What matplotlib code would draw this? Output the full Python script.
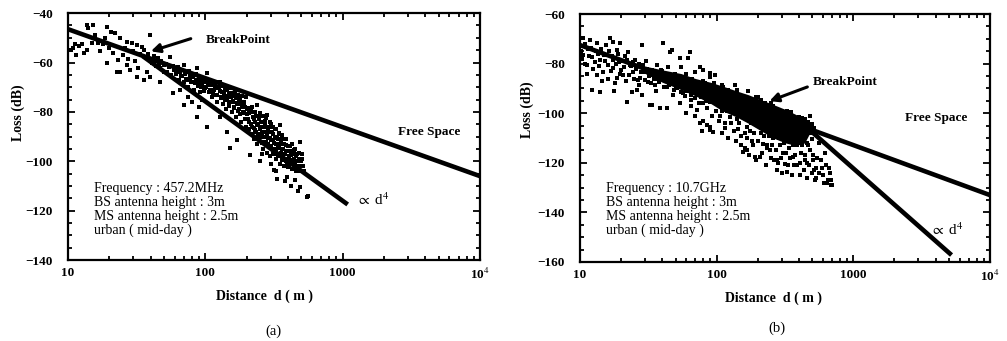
import numpy as np
import matplotlib
matplotlib.use('Agg')
import matplotlib.pyplot as plt
from matplotlib.ticker import FixedLocator, LogLocator, MultipleLocator, NullFormatter

plt.rcParams['font.family'] = ['Liberation Serif', 'DejaVu Serif']
plt.rcParams['mathtext.fontset'] = 'stix'

# ---- panel (a): 457.2 MHz ----
a_dist = [10.5, 10.9, 11.2, 11.5, 12.0, 12.6, 13.0, 13.7, 13.8, 14.1, 14.9, 15.3, 15.8, 16.6, 17.2, 18.1, 18.5, 19.1, 19.1, 19.8,
          20.5, 21.4, 22, 22.8, 23.3, 24, 24, 25, 26, 26.8, 26.8, 27.5, 28.4, 29.2, 30, 31, 31.7, 31.8, 32.6, 33.5, 34.5, 35.5,
          36, 37, 37.5, 38, 39.7, 39.7, 40, 41, 42, 43, 44, 45, 46, 47, 47, 48, 50, 50, 52, 52.5, 54, 55.6, 56, 58, 58.7, 59,
          61, 63, 64, 65.8, 67, 69.5, 69.5, 70, 72, 73, 75, 76, 78, 80, 82, 83, 85, 87, 87, 88, 90, 92, 94, 95, 97, 99,
          65, 75, 80, 90,
          103, 103, 105, 107, 110, 112, 115, 117, 120, 122, 125, 128, 128, 130, 132, 135, 138, 140, 142, 144, 145, 148, 150,
          152, 155, 157, 160, 163, 165, 168, 170, 170, 173, 176, 180, 180, 183, 186, 190, 193, 196, 198,
          202, 205, 208, 210, 213, 215, 218, 220, 222, 225, 228, 230, 232, 235, 238, 240, 242, 245, 248, 250, 252, 255, 258,
          260, 262, 265, 268, 270, 272, 275, 278, 280, 282, 285, 288, 290, 293, 296, 300, 303, 306, 310, 313, 316, 318, 322,
          325, 328, 332, 334, 336, 340, 344, 348, 352, 352, 356, 360, 365, 370, 375, 380, 385, 390, 394, 398, 402, 406, 412,
          418, 424, 430, 436, 442, 450, 450, 458, 466, 475, 484, 493, 493, 500, 510, 520, 552, 564,
          260, 300, 330, 380, 420, 470]
a_loss = [-55, -54.3, -52.5, -57, -53.5, -52.5, -56, -55, -45, -46.2, -52.3, -44.9, -49, -52, -55.5, -52.6, -50, -45.5, -60.4, -54,
          -47.5, -56.3, -48.2, -63.9, -59, -50.2, -63.8, -57, -54, -51.6, -61, -58.5, -63.1, -52.3, -55.5, -59.5, -53, -66, -62.4, -56.5, -53.6, -67.1,
          -55, -58, -63.8, -56.5, -48.9, -65.8, -58.5, -60, -57.5, -59.5, -61.5, -58, -60.5, -62.4, -67.8, -59.5, -61, -64, -60.5, -63.8, -62, -57.7, -65, -61.5, -72.5, -63,
          -64.5, -62, -67, -63.8, -65.5, -61, -77.2, -68, -64, -66.5, -70, -63.5, -67, -65, -67.8, -71, -64.5, -62.4, -82, -68.5, -66, -72, -69, -75, -67, -70.5,
          -71, -74, -76, -78,
          -64.4, -86, -69, -72, -67.5, -74, -71.2, -69.5, -73, -76, -70, -67.8, -82, -74.5, -72, -77, -73.5, -70.5, -79, -88, -75, -72.5, -77.5,
          -94.7, -74, -80, -76, -78.5, -73.5, -82, -91.4, -77, -79.5, -76, -74.5, -81, -84, -78, -80.5, -77, -83, -86,
          -79, -83, -87, -80.5, -97.5, -85, -78, -89, -82, -86.5, -91, -80, -84, -88, -77.2, -93, -85.5, -82, -90, -87, -100, -84, -92.5,
          -88.5, -81.5, -95, -86, -90, -83.5, -92, -88, -96.5, -81.3, -90.5, -86.5, -94, -88, -98, -91.5, -85, -95, -89, -97, -103.6, -92.5, -87,
          -95.5, -99, -90.5, -107, -94, -97.5, -88.5, -101, -85.3, -93, -96.5, -99.5, -91, -95, -102, -97, -93.5, -100, -106.3, -96, -102.5, -98.5, -94,
          -101, -97.5, -103, -99.5, -95.5, -107.6, -101.5, -98, -103.5, -100, -96.5, -92, -110.3, -102, -99, -104, -114.4, -114,
          -97, -101, -104, -108, -110, -112]

# extra points in the dense band of panel (a)
a_dense_dist = [60, 63, 66, 68, 71, 74, 77, 79, 82, 84, 86, 89, 91, 93, 96, 98,
                100, 102, 105, 108, 110, 113, 116, 119, 122, 125, 128, 131, 134, 137, 140, 143, 146, 149, 152, 155,
                158, 161, 164, 167, 170, 173, 176, 179, 182, 185, 188, 191, 194, 197, 200,
                205, 210, 214, 218, 222, 226, 230, 234, 238, 242, 246, 250, 254, 258, 262, 266, 270, 274, 278, 282,
                286, 290, 294, 298, 302, 306, 310, 314, 318, 322, 326, 330, 334, 338, 342, 346, 350, 355, 360, 365,
                370, 375, 380, 385, 390, 395, 400, 405, 410, 415, 420, 425, 430, 435, 440, 445, 450, 455, 460, 465,
                470, 478, 486, 495, 505, 515]
a_dense_loss = [-62.5, -64, -63, -65.5, -64.5, -67, -65.5, -68, -66, -68.5, -67, -69.5, -67.5, -70, -68, -71.5,
                -68, -70, -67.5, -71, -69, -72.5, -68.5, -70.5, -73, -68, -71.5, -74, -69.5, -72, -75, -71, -73.5, -76, -70.5, -72.5,
                -75.5, -78, -72, -74.5, -76.5, -73, -79, -75, -77, -73.5, -80, -76, -78, -74, -81,
                -78.5, -84, -79.5, -86, -80, -83, -87.5, -81.5, -85, -89, -83, -80.5, -86, -90, -84, -88, -92, -85, -82.5, -89,
                -93, -86, -90.5, -84, -94, -88, -91.5, -86, -95, -90, -93, -87, -97, -91, -94.5, -89, -98, -92, -95, -89.5,
                -97.5, -93, -99, -91, -96, -101, -94, -98, -102, -96, -99.5, -93, -101, -97, -103, -99, -95, -104, -100, -97,
                -102, -99, -104, -100, -97, -102]

a_fs_dist = [10, 10000]
a_fs_loss = [-46.5, -106]
a_d4_dist = [35, 1090]
a_d4_loss = [-57.4, -117.5]

# ---- panel (b): 10.7 GHz ----
b_dist = [10.3, 10.6, 10.6, 10.8, 11.2, 11.5, 11.8, 12.2, 12.2, 12.5, 13.2, 13.2, 13.5, 14.0, 14.0, 14.8, 15.2, 15.6, 16.0, 16.6,
          17.0, 17.5, 17.5, 18.0, 18.6, 18.6, 19.2, 19.6, 20.0, 20.7, 21.3, 21.9, 22.6, 23.2, 23.9, 24.6, 25.3, 26.0, 26.5,
          27.5, 28.3, 28.3, 29, 29.5,
          30.5, 31.5, 32.5, 33.5, 33.5, 34.4, 35.5, 36.5, 37.5, 38.5, 39.5, 40.6, 41, 42, 43, 43, 44, 45.5, 46.9, 47, 48.1,
          49.5, 51, 52, 53.9, 53.9, 55, 56.5, 58, 59.5,
          60.3, 62, 63.8, 64.5, 66, 68, 70, 71.5, 73, 75.6, 77, 79, 80, 82, 84.5, 86, 89, 89, 89, 89, 92, 94.6, 96, 97, 99,
          102, 105, 109, 112, 115, 118, 122, 125, 128, 132, 136, 140, 144, 148, 152, 157, 161, 163, 166, 166, 170, 175, 180,
          185, 190, 195, 198,
          205, 207, 212, 218, 225, 232, 238, 245, 250, 258, 265, 275, 275, 282, 290, 298, 305, 312, 318, 325, 332, 340,
          350, 363, 370, 380, 390, 400, 406, 415, 425, 440, 455, 455, 470, 490, 505, 520, 538, 538, 560, 580, 600, 620, 638,
          660, 690, 700,
          45, 50, 60, 80, 90, 110, 120, 140, 160, 200, 240, 260, 300, 330, 360, 420, 460, 480, 500]
b_loss = [-73, -69.8, -76.5, -80, -80.6, -74, -70.5, -90.6, -77.5, -82, -71.8, -84.6, -76, -78.5, -91.3, -83.3, -79, -72.5, -86, -69.8,
          -77, -71.2, -81.9, -88, -74.5, -85.9, -79.5, -71.8, -82.5, -84.6, -77, -95.4, -75.2, -80.5, -91.3, -83.3, -78.5, -90.6, -86.5,
          -85.9, -72.5, -92.7, -80.5, -83.5,
          -79, -87.5, -96.7, -96.7, -82.5, -84.6, -88.5, -80.5, -86, -98, -83, -71.8, -89.5, -85.5, -89.3, -98, -81.5, -75.2, -74.5, -87, -92.7,
          -84, -90, -86.5, -77.9, -96, -81.5, -92, -88.5, -84,
          -89.3, -77.9, -75.2, -94.5, -86, -91.5, -83.5, -98.7, -89, -81.2, -93.5, -82.6, -96, -88, -104.8, -91, -83.9, -85.3, -105.4, -106.8, -95, -107.5, -88, -84.6, -99,
          -92, -101, -108, -89.5, -106.1, -97, -90.5, -101.4, -104, -94, -88.5, -102.5, -106.5, -92.5, -109, -115.5, -114.2, -97, -105.4, -114.8, -91, -107, -111,
          -95, -117.5, -93.3, -104.5,
          -101, -117.5, -108, -112.5, -96, -112.8, -106, -115, -100, -110, -119, -118.9, -122.9, -104, -113, -108.5, -116, -101.5, -120.5, -123.6, -110, -114,
          -104, -117.5, -121, -107, -113, -103.5, -124.9, -116, -110, -119, -120.2, -104, -113, -108, -117, -123, -126.3, -122.2, -112, -119, -125, -116, -128.3,
          -122, -126.9, -129,
          -84, -89.8, -91, -87, -95.5, -88.5, -99, -90.5, -101.5, -93.5, -105.5, -97, -109.5, -99, -111.5, -102, -112, -105.5, -110.5]

# extra points of panel (b)
b_dense_dist = [10.2, 10.4, 10.9, 11.3, 11.7, 12.0, 12.8, 13.0, 13.8, 14.3, 14.6, 15.0, 15.9, 16.3, 16.8, 17.3, 17.8, 18.3,
                18.9, 19.5, 20.3, 21, 21.7, 22.2, 23, 23.6, 24.3, 25, 25.8, 26.8, 27.2, 28, 29.8, 31, 32, 33, 34, 35, 36,
                37, 38, 39,
                41.5, 43.5, 45, 47.5, 49, 50.5, 52.5, 54.5, 56, 57.5, 59, 61, 63, 65, 67, 69, 71, 72.5, 74, 76, 78, 81,
                83, 85, 87, 91, 93, 95, 98, 60, 70, 75, 65, 80, 78,
                104, 110, 116, 121, 126, 133, 138, 142, 146, 150, 155, 160, 167, 172, 178, 183, 188, 194, 200, 210, 215,
                222, 228, 235, 242, 248, 255, 262, 270, 280, 288, 295, 302, 310, 320, 328, 335, 345, 355, 365, 375, 385,
                395, 410, 420, 435, 445, 460, 475, 485, 498, 510, 525, 545, 565, 590, 610, 630, 650, 675, 685,
                210, 250, 300, 350, 400, 440, 470, 500, 520, 480]
b_dense_loss = [-75, -78, -72, -84, -77, -73.5, -79.5, -75, -81, -74, -87, -76.5, -80.5, -75, -83, -78.5, -91, -80,
                -76, -84, -79, -81.5, -87, -78.5, -84.5, -81, -79.5, -86, -82, -80, -88.5, -83.5, -86.5, -82, -85, -88, -83.5, -86, -91,
                -84, -87.5, -82.5,
                -86, -84, -88.5, -85, -90.5, -86.5, -88, -91.5, -87, -90, -93, -87.5, -90, -92.5, -88.5, -94, -90, -92, -96, -89.5, -93, -91,
                -95, -98, -92, -94, -101, -91, -96, -100, -101, -104, -97, -103, -107,
                -103, -99, -104, -110, -96, -107, -111, -98, -104, -113, -100, -108, -110, -117, -104, -113, -108, -119, -111, -104, -116,
                -109, -121, -114, -109, -118, -113, -106, -115, -120, -110, -118, -124, -112, -116, -107, -121, -118, -125, -113, -117, -121,
                -110, -120, -113, -123, -117, -126, -121, -115, -124, -119, -127, -118, -124, -122, -128, -121, -127, -124, -129,
                -94.5, -96, -99, -99.5, -101.5, -102.5, -103.5, -104.5, -106, -101]

# dense core of the 10.7 GHz measurements (upper / lower edge)
b_core_dist = [30, 40, 55, 70, 90, 110, 140, 170, 210, 260, 320, 380, 440, 480]
b_core_hi = [-81, -82.5, -84, -86, -87.5, -89, -91, -92.5, -94.5, -96.5, -98.5, -100.5, -102.5, -104]
b_core_lo = [-84, -87.5, -90.5, -93, -96, -99, -101.5, -104, -107, -110, -112, -113, -112, -108]

b_fs_dist = [10, 10000]
b_fs_loss = [-72.5, -133]
b_d4_dist = [457, 5240]
b_d4_loss = [-105.7, -157.2]

x_ticks = [10, 100, 1000, 10000]
x_labels = ['10', '100', '1000', '10$^4$']


def setup_axes(ax, ylim, ypad):
    ax.set_xscale('log')
    ax.set_xlim(10, 10000)
    ax.set_ylim(*ylim)
    ax.xaxis.set_major_locator(FixedLocator(x_ticks))
    ax.set_xticklabels(x_labels)
    ax.xaxis.set_minor_locator(LogLocator(base=10, subs=np.arange(2, 10)))
    ax.xaxis.set_minor_formatter(NullFormatter())
    ax.yaxis.set_major_locator(MultipleLocator(20))
    ax.yaxis.set_minor_locator(MultipleLocator(5))
    ax.tick_params(which='both', direction='in', top=True, right=True, width=1.3, colors='k')
    ax.tick_params(which='major', length=5)
    ax.tick_params(which='minor', length=3)
    ax.tick_params(axis='y', pad=ypad)
    ax.tick_params(axis='x', pad=5)
    for lab in ax.get_xticklabels() + ax.get_yticklabels():
        lab.set_fontsize(9.5)
        lab.set_fontweight('bold')
    for sp in ax.spines.values():
        sp.set_linewidth(1.6)


fig = plt.figure(figsize=(10.07, 3.41), dpi=100)
ax1 = fig.add_axes([0.0675, 0.2375, 0.409, 0.724])
ax2 = fig.add_axes([0.576, 0.2317, 0.407, 0.727])

dot_kw = dict(s=5.5, marker='s', color='k', linewidths=0)

# panel (a)
setup_axes(ax1, (-140, -40), 11)
ax1.scatter(a_dist, a_loss, **dot_kw)
ax1.scatter(a_dense_dist, a_dense_loss, **dot_kw)
ax1.plot(a_fs_dist, a_fs_loss, color='k', lw=3.3, solid_capstyle='butt')
ax1.plot(a_d4_dist, a_d4_loss, color='k', lw=3.3, solid_capstyle='butt')
ax1.annotate('', xy=(38.4, -55.8), xytext=(82, -50),
             arrowprops=dict(arrowstyle='-|>', lw=2.2, color='k', mutation_scale=13))
ax1.text(100, -51, 'BreakPoint', fontsize=9.5, fontweight='bold', va='center')
ax1.text(2520, -88.2, 'Free Space', fontsize=9.5, fontweight='bold', va='center')
ax1.text(1245, -115.7, r'$\propto$ d$^{4}$', fontsize=11, va='center')
a_info = ['Frequency : 457.2MHz', 'BS antenna height : 3m', 'MS antenna height : 2.5m', 'urban ( mid-day )']
for i, line in enumerate(a_info):
    ax1.text(0.063, 0.291 - i * 0.0575, line, fontsize=10, ha='left', va='center', transform=ax1.transAxes)
ax1.set_xlabel('Distance  d ( m )', fontsize=10, fontweight='bold')
ax1.set_ylabel('Loss (dB)', fontsize=10, fontweight='bold')
ax1.xaxis.set_label_coords(0.476, -0.12)
ax1.yaxis.set_label_coords(-0.105, 0.595)

# panel (b)
setup_axes(ax2, (-160, -60), 11)
ax2.fill_between(b_core_dist, b_core_hi, b_core_lo, color='k', linewidth=0)
ax2.scatter(b_dist, b_loss, **dot_kw)
ax2.scatter(b_dense_dist, b_dense_loss, **dot_kw)
ax2.plot(b_fs_dist, b_fs_loss, color='k', lw=3.3, solid_capstyle='butt')
ax2.plot(b_d4_dist, b_d4_loss, color='k', lw=3.3, solid_capstyle='butt')
ax2.annotate('', xy=(233, -95.5), xytext=(482, -89),
             arrowprops=dict(arrowstyle='-|>', lw=2.2, color='k', mutation_scale=13))
ax2.text(506, -87.4, 'BreakPoint', fontsize=9.5, fontweight='bold', va='center')
ax2.text(2380, -101.9, 'Free Space', fontsize=9.5, fontweight='bold', va='center')
ax2.text(3630, -147.1, r'$\propto$ d$^{4}$', fontsize=11, va='center')
b_info = ['Frequency : 10.7GHz', 'BS antenna height : 3m', 'MS antenna height : 2.5m', 'urban ( mid-day )']
for i, line in enumerate(b_info):
    ax2.text(0.063, 0.298 - i * 0.0565, line, fontsize=10, ha='left', va='center', transform=ax2.transAxes)
ax2.set_xlabel('Distance  d ( m )', fontsize=10, fontweight='bold')
ax2.set_ylabel('Loss (dB)', fontsize=10, fontweight='bold')
ax2.xaxis.set_label_coords(0.473, -0.12)
ax2.yaxis.set_label_coords(-0.112, 0.613)

fig.text(0.272, 0.029, '(a)', fontsize=10.5, ha='center', va='center')
fig.text(0.772, 0.038, '(b)', fontsize=10.5, ha='center', va='center')

fig.savefig('out.png', dpi=100)
